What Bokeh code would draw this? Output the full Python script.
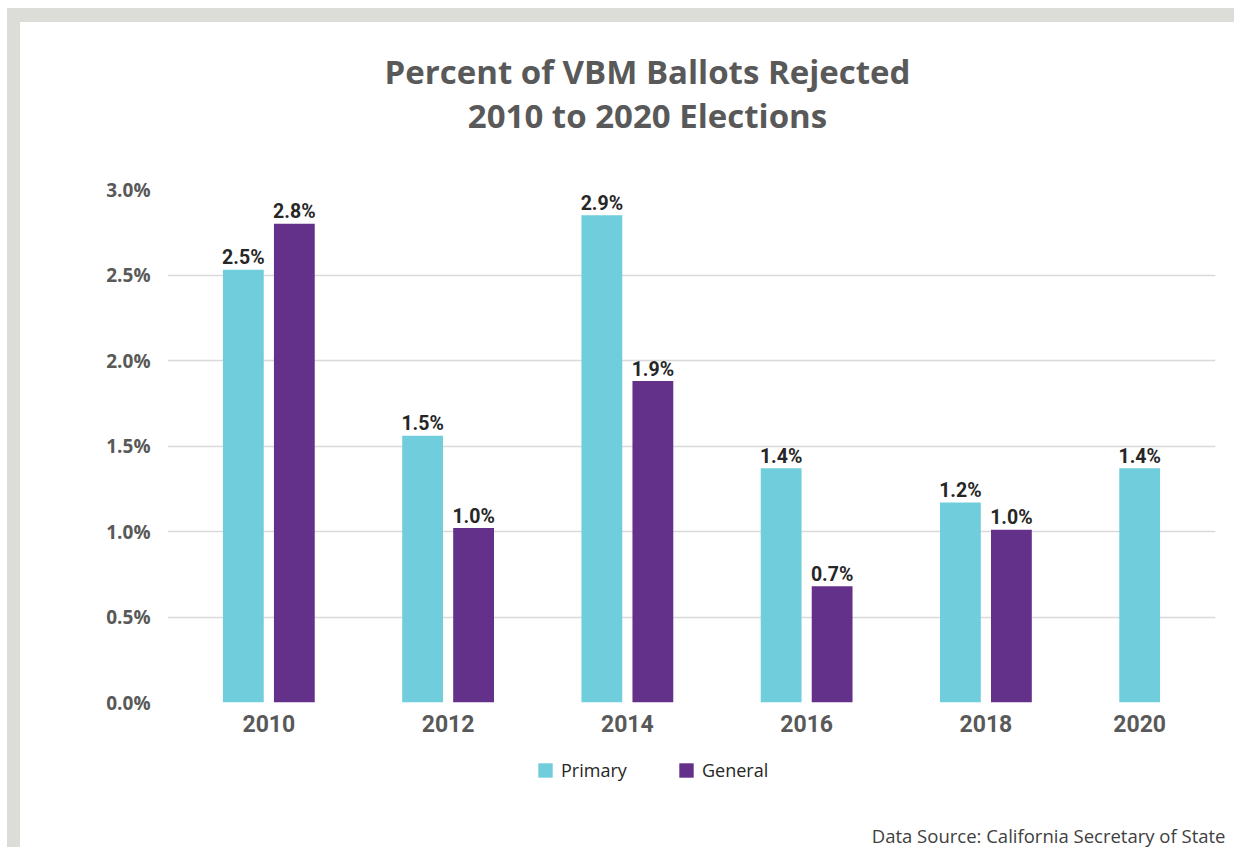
from bokeh.plotting import figure
from bokeh.layouts import column
from bokeh.models import (FactorRange, Range1d, Legend, LegendItem, Title, Label,
                          PrintfTickFormatter, ColumnDataSource, FixedTicker)
from bokeh.core.properties import value
from bokeh.embed import file_html
from bokeh.resources import INLINE

# ---------------- data ----------------
years = ["2010", "2012", "2014", "2016", "2018", "2020"]
series = ["Primary", "General"]
primary = [2.53, 1.56, 2.85, 1.37, 1.17, 1.37]
general = [2.80, 1.02, 1.88, 0.68, 1.01, None]
primary_labels = ["2.5%", "1.5%", "2.9%", "1.4%", "1.2%", "1.4%"]
general_labels = ["2.8%", "1.0%", "1.9%", "0.7%", "1.0%", None]
y_ticks = [0.0, 0.5, 1.0, 1.5, 2.0, 2.5, 3.0]
title_line1 = "Percent of VBM Ballots Rejected"
title_line2 = "2010 to 2020 Elections"
source_note = "Data Source: California Secretary of State"

colors = {"Primary": "#70CDDC", "General": "#63308A"}
WHITE = {"background-color": "white"}

# ---------------- build factors ----------------
factors = []
for yr, g in zip(years, general):
    factors.append((yr, "Primary"))
    if g is not None:
        factors.append((yr, "General"))

p_src = ColumnDataSource(dict(x=[(y, "Primary") for y in years], top=primary, lab=primary_labels))
g_x, g_top, g_lab = [], [], []
for yr, g, gl in zip(years, general, general_labels):
    if g is not None:
        g_x.append((yr, "General")); g_top.append(g); g_lab.append(gl)
g_src = ColumnDataSource(dict(x=g_x, top=g_top, lab=g_lab))

W = 1214


def blank(fig):
    fig.border_fill_color = "white"
    fig.background_fill_color = "white"
    fig.outline_line_color = None
    fig.title.visible = False


# ---------------- title strip ----------------
TH = 150
tf = figure(width=W, height=TH, x_range=Range1d(0, 1), y_range=Range1d(0, 1),
            x_axis_type=None, y_axis_type=None, output_backend="svg", toolbar_location=None,
            min_border=0, min_border_left=0, min_border_right=0, min_border_top=0,
            min_border_bottom=0, styles=WHITE)
blank(tf)
for txt, yy in ((title_line1, 101), (title_line2, 57)):
    tf.add_layout(Label(x=480, y=yy, x_units="screen", y_units="screen", text=txt,
                        text_align="center", text_baseline="alphabetic", text_font="Open Sans",
                        text_font_style="bold", text_font_size="33px", text_color="#595959"))

# ---------------- main chart ----------------
p = figure(width=W, height=573,
           x_range=FactorRange(*factors, group_padding=1.515, range_padding=0.987,
                               range_padding_units="absolute"),
           y_range=Range1d(0, 3.0),
           output_backend="svg", toolbar_location=None,
           min_border_left=147, min_border_right=19, min_border_top=17, min_border_bottom=43,
           styles=WHITE)
blank(p)

r1 = p.vbar(x="x", top="top", width=0.8, source=p_src, fill_color=colors["Primary"], line_color=None)
r2 = p.vbar(x="x", top="top", width=0.8, source=g_src, fill_color=colors["General"], line_color=None)

for src in (p_src, g_src):
    p.text(x="x", y="top", text="lab", source=src, text_align="center", text_baseline="alphabetic",
           y_offset=-12, text_font=value("Roboto"), text_font_style="bold",
           text_font_size="19.5px", text_color="#262626")

p.xgrid.grid_line_color = None
p.ygrid.grid_line_color = "#D9D9D9"
p.ygrid.grid_line_width = 1.5
p.yaxis.ticker = FixedTicker(ticks=y_ticks)
p.yaxis.formatter = PrintfTickFormatter(format="%.1f%%")
for ax in (p.xaxis[0], p.yaxis[0]):
    ax.axis_line_color = None
    ax.major_tick_line_color = None
    ax.minor_tick_line_color = None
p.yaxis.major_label_standoff = 11
p.yaxis.major_label_text_font = "Open Sans"
p.yaxis.major_label_text_font_style = "bold"
p.yaxis.major_label_text_font_size = "19px"
p.yaxis.major_label_text_color = "#595959"

xa = p.xaxis[0]
xa.major_label_text_font_size = "0px"
xa.major_label_standoff = 6
xa.separator_line_color = None
xa.group_text_font = "Roboto"
xa.group_text_font_style = "bold"
xa.group_text_font_size = "23px"
xa.group_text_color = "#595959"

# ---------------- legend + source strip ----------------
lf = figure(width=W, frame_height=75, x_range=p.x_range, y_range=p.y_range,
            x_axis_type=None, y_axis_type=None, output_backend="svg", toolbar_location=None,
            min_border=0, min_border_left=0, min_border_right=0, min_border_top=0,
            min_border_bottom=0, styles=WHITE)
blank(lf)
lf.grid.visible = False
e1 = lf.vbar(x="x", top="top", width=0.8, source=p_src, fill_color=colors["Primary"],
             line_color=None, visible=False)
e2 = lf.vbar(x="x", top="top", width=0.8, source=g_src, fill_color=colors["General"],
             line_color=None, visible=False)
legend = Legend(items=[LegendItem(label=series[0], renderers=[e1]),
                       LegendItem(label=series[1], renderers=[e2])],
                orientation="horizontal", location=(369, 38),
                glyph_width=18, glyph_height=18, label_width=100, label_height=14, spacing=16,
                padding=0, margin=0, border_line_color=None, background_fill_alpha=0,
                inactive_fill_alpha=0, click_policy="none",
                label_text_font="Open Sans", label_text_font_size="18px",
                label_text_color="#262626", label_standoff=7)
lf.add_layout(legend)
lf.add_layout(Title(text=source_note, align="right", offset=-10, standoff=0, text_font="Open Sans",
                    text_font_style="normal", text_font_size="18.5px", text_color="#404040"),
              "below")

inner = column(tf, p, lf, spacing=0,
               styles={"background-color": "#DCDCD8", "padding": "14px 0px 0px 13px"})
outer = column(inner, styles={"background-color": "white", "padding": "8px 0px 0px 7px"})

open("out.html", "w").write(file_html(outer, INLINE))
